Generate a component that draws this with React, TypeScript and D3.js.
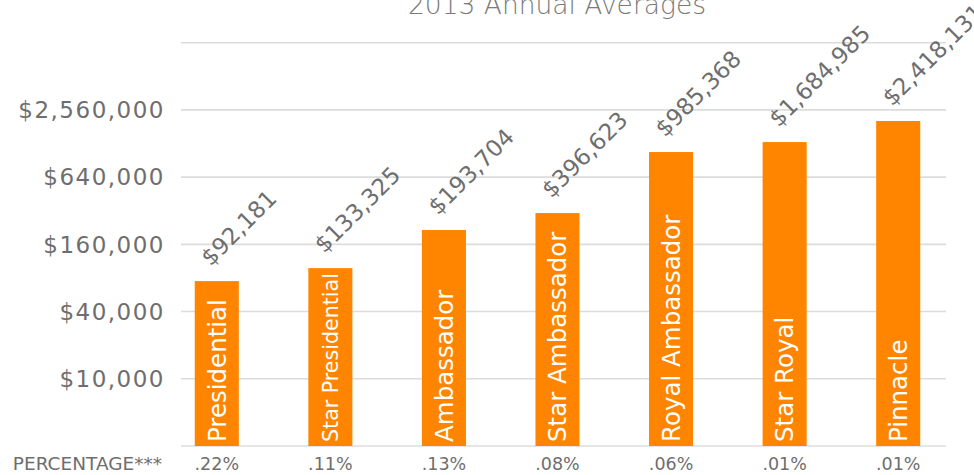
import * as d3 from 'd3';

// ranks, left to right
const ranks = [
  'Presidential',
  'Star Presidential',
  'Ambassador',
  'Star Ambassador',
  'Royal Ambassador',
  'Star Royal',
  'Pinnacle',
];
// printed value labels
const avgLabels = [92181, 133325, 193704, 396623, 985368, 1684985, 2418131];
// bar heights as drawn in the picture
const barValues = [75000, 98000, 215000, 305000, 1074000, 1319000, 2036000];
const percentages = ['.22%', '.11%', '.13%', '.08%', '.06%', '.01%', '.01%'];
const tickValues = [10000, 40000, 160000, 640000, 2560000];
const gridValues = [2500, 10000, 40000, 160000, 640000, 2560000, 10240000];

const W = 974;
const H = 475;
const FONT = '"DejaVu Sans", sans-serif';
const GRAY = '#6e6e6e';
const ORANGE = '#ff8500';

function App() {
  const x = d3
    .scaleBand<string>()
    .domain(ranks)
    .range([160, 955])
    .paddingInner(0.612)
    .paddingOuter(0.306);

  const y = d3.scaleLog().base(4).domain([2500, 10240000]).range([446, 42.7]);
  const money = d3.format('$,');

  return (
    <svg
      width={W}
      height={H}
      style={{ position: 'absolute', left: 0, top: 0, fontFamily: FONT }}
    >
      <text
        x={557}
        y={14}
        textAnchor="middle"
        fontSize={26.5}
        fontWeight={200}
        fill="#7a7a7a"
      >
        2013 Annual Averages
      </text>

      {gridValues.map((v) => (
        <line
          key={v}
          x1={181}
          x2={946}
          y1={y(v)}
          y2={y(v)}
          stroke="#dcdcdc"
          strokeWidth={1.6}
        />
      ))}

      {tickValues.map((v) => (
        <text
          key={v}
          x={165}
          y={y(v)}
          dy="0.36em"
          textAnchor="end"
          fontSize={23}
          letterSpacing={1.5}
          fill={GRAY}
        >
          {money(v)}
        </text>
      ))}

      {ranks.map((r, i) => {
        const bx = x(r)!;
        const bw = x.bandwidth();
        const cx = bx + bw / 2;
        const top = y(barValues[i]);
        const barH = 446 - top;
        const fs = Math.min(24.5, (barH - 8) / (r.length * 0.485));
        return (
          <g key={r}>
            <rect x={bx} y={top} width={bw} height={barH} fill={ORANGE} />
            <text
              transform={`translate(${cx + fs * 0.36},442) rotate(-90)`}
              fontSize={fs}
              fill="#ffffff"
            >
              {r}
            </text>
            <text
              transform={`translate(${cx - 6},${top - 14}) rotate(-45)`}
              fontSize={23}
              fill={GRAY}
            >
              {money(avgLabels[i])}
            </text>
            <text
              x={cx}
              y={470}
              textAnchor="middle"
              fontSize={17.5}
              fill={GRAY}
            >
              {percentages[i]}
            </text>
          </g>
        );
      })}

      <text
        x={162}
        y={470}
        textAnchor="end"
        fontSize={18.5}
        fill={GRAY}
      >
        PERCENTAGE***
      </text>
    </svg>
  );
}

export default App;
